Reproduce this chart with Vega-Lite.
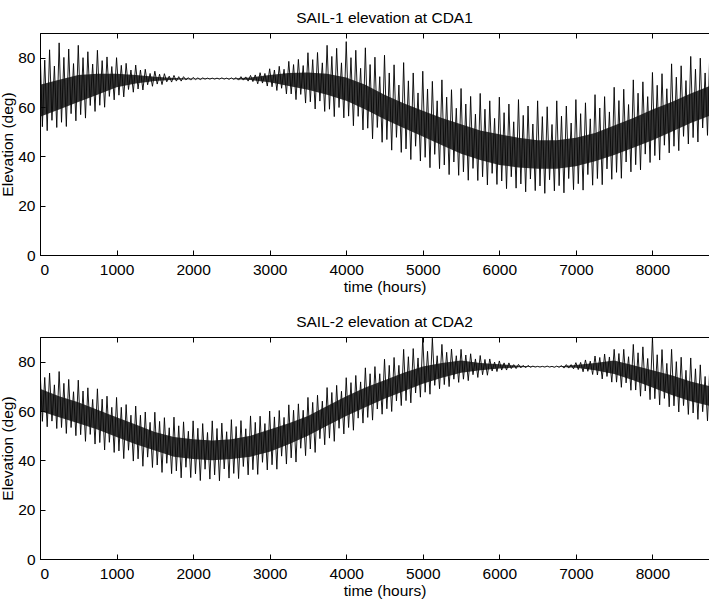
{
  "$schema": "https://vega.github.io/schema/vega-lite/v6.json",
  "background": "white",
  "padding": {"left": 0, "top": 10, "right": 0, "bottom": 0},
  "config": {
    "font": "Liberation Sans",
    "view": {"stroke": "black", "strokeWidth": 1},
    "axis": {"grid": false, "domainColor": "black", "tickColor": "black", "labelColor": "black", "titleColor": "black", "labelFontSize": 15.5, "titleFontSize": 15.5, "titleFontWeight": "normal", "tickSize": -5, "labelFont": "Liberation Sans", "titleFont": "Liberation Sans"},
    "axisX": {"labelPadding": 12, "titlePadding": 2},
    "axisY": {"labelPadding": 10, "titlePadding": 2},
    "title": {"fontSize": 15.5, "fontWeight": "normal", "color": "black", "offset": 6, "font": "Liberation Sans"},
    "concat": {"spacing": 18}
  },
  "datasets": {
    "zig1": [
{"t":0,"e":85},{"t":31,"e":52.0},{"t":62,"e":79.0},{"t":94,"e":50.4},{"t":125,"e":83.2},{"t":156,"e":54.6},{"t":188,"e":76.6},{"t":219,"e":51.7},
{"t":250,"e":86},{"t":281,"e":53.8},{"t":312,"e":80.1},{"t":344,"e":52.1},{"t":375,"e":83.5},{"t":406,"e":57.3},{"t":438,"e":77.6},{"t":469,"e":54.4},
{"t":500,"e":85},{"t":531,"e":56.9},{"t":562,"e":80.0},{"t":594,"e":55.5},{"t":625,"e":82.4},{"t":656,"e":60.6},{"t":688,"e":77.4},{"t":719,"e":58.2},
{"t":750,"e":83},{"t":781,"e":60.7},{"t":812,"e":78.8},{"t":844,"e":59.9},{"t":875,"e":80.3},{"t":906,"e":64.3},{"t":938,"e":76.4},{"t":969,"e":62.9},
{"t":1000,"e":80},{"t":1031,"e":64.8},{"t":1062,"e":76.9},{"t":1094,"e":64.1},{"t":1125,"e":77.7},{"t":1156,"e":67.1},{"t":1188,"e":75.0},{"t":1219,"e":66.0},
{"t":1250,"e":77},{"t":1281,"e":67.3},{"t":1312,"e":75.0},{"t":1344,"e":66.9},{"t":1375,"e":75.3},{"t":1406,"e":69.0},{"t":1438,"e":73.6},{"t":1469,"e":68.4},
{"t":1500,"e":74.5},{"t":1531,"e":69.3},{"t":1562,"e":73.3},{"t":1594,"e":69.1},{"t":1625,"e":73.5},{"t":1656,"e":70.2},{"t":1688,"e":72.5},{"t":1719,"e":70.1},
{"t":1750,"e":72.8},{"t":1781,"e":70.5},{"t":1812,"e":72.3},{"t":1844,"e":70.5},{"t":1875,"e":72.3},{"t":1906,"e":71.0},{"t":1938,"e":71.9},{"t":1969,"e":70.9},
{"t":2000,"e":72.0},{"t":2031,"e":71.1},{"t":2062,"e":71.8},{"t":2094,"e":71.1},{"t":2125,"e":71.8},{"t":2156,"e":71.3},{"t":2188,"e":71.7},{"t":2219,"e":71.3},
{"t":2250,"e":71.7},{"t":2281,"e":71.3},{"t":2312,"e":71.7},{"t":2344,"e":71.3},{"t":2375,"e":71.8},{"t":2406,"e":71.3},{"t":2438,"e":71.7},{"t":2469,"e":71.2},
{"t":2500,"e":71.8},{"t":2531,"e":71.2},{"t":2562,"e":71.9},{"t":2594,"e":70.9},{"t":2625,"e":72.3},{"t":2656,"e":70.9},{"t":2688,"e":72.2},{"t":2719,"e":70.5},
{"t":2750,"e":72.8},{"t":2781,"e":70.3},{"t":2812,"e":73.0},{"t":2844,"e":69.4},{"t":2875,"e":73.9},{"t":2906,"e":69.7},{"t":2938,"e":73.6},{"t":2969,"e":68.5},
{"t":3000,"e":75.5},{"t":3031,"e":68.2},{"t":3062,"e":75.0},{"t":3094,"e":66.7},{"t":3125,"e":76.5},{"t":3156,"e":67.6},{"t":3188,"e":75.3},{"t":3219,"e":65.3},
{"t":3250,"e":78.5},{"t":3281,"e":65.3},{"t":3312,"e":77.2},{"t":3344,"e":63.0},{"t":3375,"e":79.3},{"t":3406,"e":65.1},{"t":3438,"e":76.8},{"t":3469,"e":61.6},
{"t":3500,"e":82},{"t":3531,"e":62.1},{"t":3562,"e":79.2},{"t":3594,"e":59.2},{"t":3625,"e":82.1},{"t":3656,"e":62.4},{"t":3688,"e":77.9},{"t":3719,"e":58.2},
{"t":3750,"e":85},{"t":3781,"e":59.1},{"t":3812,"e":80.5},{"t":3844,"e":56.1},{"t":3875,"e":83.8},{"t":3906,"e":59.8},{"t":3938,"e":77.9},{"t":3969,"e":55.6},
{"t":4000,"e":86.5},{"t":4031,"e":56.3},{"t":4062,"e":80.0},{"t":4094,"e":52.4},{"t":4125,"e":83.0},{"t":4156,"e":56.2},{"t":4188,"e":75.7},{"t":4219,"e":50.7},
{"t":4250,"e":84},{"t":4281,"e":51.4},{"t":4312,"e":77.2},{"t":4344,"e":47.1},{"t":4375,"e":80.2},{"t":4406,"e":51.7},{"t":4438,"e":72.3},{"t":4469,"e":45.7},
{"t":4500,"e":81},{"t":4531,"e":46.8},{"t":4562,"e":73.8},{"t":4594,"e":42.5},{"t":4625,"e":77.1},{"t":4656,"e":47.7},{"t":4688,"e":68.9},{"t":4719,"e":41.6},
{"t":4750,"e":78},{"t":4781,"e":43.0},{"t":4812,"e":70.6},{"t":4844,"e":38.7},{"t":4875,"e":73.8},{"t":4906,"e":44.1},{"t":4938,"e":65.7},{"t":4969,"e":38.1},
{"t":5000,"e":74.5},{"t":5031,"e":39.6},{"t":5062,"e":67.3},{"t":5094,"e":35.4},{"t":5125,"e":70.4},{"t":5156,"e":40.8},{"t":5188,"e":62.5},{"t":5219,"e":35.0},
{"t":5250,"e":71},{"t":5281,"e":36.5},{"t":5312,"e":64.0},{"t":5344,"e":32.6},{"t":5375,"e":67.0},{"t":5406,"e":37.7},{"t":5438,"e":59.5},{"t":5469,"e":32.3},
{"t":5500,"e":67.5},{"t":5531,"e":33.7},{"t":5562,"e":61.2},{"t":5594,"e":30.3},{"t":5625,"e":64.3},{"t":5656,"e":35.1},{"t":5688,"e":57.1},{"t":5719,"e":30.2},
{"t":5750,"e":65.5},{"t":5781,"e":31.7},{"t":5812,"e":59.1},{"t":5844,"e":28.4},{"t":5875,"e":62.5},{"t":5906,"e":33.1},{"t":5938,"e":55.4},{"t":5969,"e":28.6},
{"t":6000,"e":64},{"t":6031,"e":30.0},{"t":6062,"e":57.7},{"t":6094,"e":26.9},{"t":6125,"e":61.2},{"t":6156,"e":31.7},{"t":6188,"e":54.0},{"t":6219,"e":27.1},
{"t":6250,"e":63},{"t":6281,"e":28.8},{"t":6312,"e":56.6},{"t":6344,"e":25.6},{"t":6375,"e":60.4},{"t":6406,"e":30.8},{"t":6438,"e":53.1},{"t":6469,"e":26.1},
{"t":6500,"e":62.5},{"t":6531,"e":28.0},{"t":6562,"e":56.1},{"t":6594,"e":25.0},{"t":6625,"e":60.1},{"t":6656,"e":30.5},{"t":6688,"e":52.9},{"t":6719,"e":26.0},
{"t":6750,"e":62.5},{"t":6781,"e":28.1},{"t":6812,"e":56.3},{"t":6844,"e":25.2},{"t":6875,"e":60.4},{"t":6906,"e":31.0},{"t":6938,"e":53.5},{"t":6969,"e":26.5},
{"t":7000,"e":63},{"t":7031,"e":28.9},{"t":7062,"e":57.3},{"t":7094,"e":26.3},{"t":7125,"e":61.7},{"t":7156,"e":32.6},{"t":7188,"e":55.2},{"t":7219,"e":28.3},
{"t":7250,"e":65},{"t":7281,"e":31.0},{"t":7312,"e":59.6},{"t":7344,"e":28.5},{"t":7375,"e":64.2},{"t":7406,"e":34.9},{"t":7438,"e":58.0},{"t":7469,"e":30.7},
{"t":7500,"e":68},{"t":7531,"e":33.5},{"t":7562,"e":62.6},{"t":7594,"e":31.1},{"t":7625,"e":67.2},{"t":7656,"e":37.7},{"t":7688,"e":61.0},{"t":7719,"e":33.7},
{"t":7750,"e":71},{"t":7781,"e":36.6},{"t":7812,"e":65.6},{"t":7844,"e":34.5},{"t":7875,"e":70.2},{"t":7906,"e":40.9},{"t":7938,"e":64.2},{"t":7969,"e":37.5},
{"t":8000,"e":74},{"t":8031,"e":40.3},{"t":8062,"e":68.8},{"t":8094,"e":38.5},{"t":8125,"e":73.5},{"t":8156,"e":44.5},{"t":8188,"e":67.4},{"t":8219,"e":41.4},
{"t":8250,"e":77.5},{"t":8281,"e":44.1},{"t":8312,"e":72.1},{"t":8344,"e":42.3},{"t":8375,"e":76.7},{"t":8406,"e":48.1},{"t":8438,"e":70.7},{"t":8469,"e":45.0},
{"t":8500,"e":80.5},{"t":8531,"e":47.6},{"t":8562,"e":75.3},{"t":8594,"e":45.8},{"t":8625,"e":79.8},{"t":8656,"e":51.5},{"t":8688,"e":73.8},{"t":8719,"e":48.5},
{"t":8750,"e":83.5}
    ],
    "zig2": [
{"t":0,"e":77.5},{"t":31,"e":55.8},{"t":62,"e":73.6},{"t":94,"e":53.6},{"t":125,"e":75.4},{"t":156,"e":55.9},{"t":188,"e":70.6},{"t":219,"e":52.9},
{"t":250,"e":76},{"t":281,"e":53.3},{"t":312,"e":71.2},{"t":344,"e":50.9},{"t":375,"e":72.8},{"t":406,"e":53.3},{"t":438,"e":67.8},{"t":469,"e":50.0},
{"t":500,"e":72.5},{"t":531,"e":50.4},{"t":562,"e":68.1},{"t":594,"e":47.7},{"t":625,"e":69.4},{"t":656,"e":50.5},{"t":688,"e":64.7},{"t":719,"e":46.6},
{"t":750,"e":69},{"t":781,"e":47.2},{"t":812,"e":64.8},{"t":844,"e":44.2},{"t":875,"e":66.0},{"t":906,"e":47.3},{"t":938,"e":61.5},{"t":969,"e":43.2},
{"t":1000,"e":65.5},{"t":1031,"e":43.8},{"t":1062,"e":61.5},{"t":1094,"e":40.7},{"t":1125,"e":62.6},{"t":1156,"e":44.1},{"t":1188,"e":58.3},{"t":1219,"e":39.7},
{"t":1250,"e":62},{"t":1281,"e":40.6},{"t":1312,"e":58.3},{"t":1344,"e":37.6},{"t":1375,"e":59.6},{"t":1406,"e":41.3},{"t":1438,"e":55.4},{"t":1469,"e":37.1},
{"t":1500,"e":59.5},{"t":1531,"e":38.1},{"t":1562,"e":55.8},{"t":1594,"e":35.1},{"t":1625,"e":57.3},{"t":1656,"e":38.8},{"t":1688,"e":53.2},{"t":1719,"e":34.6},
{"t":1750,"e":57.5},{"t":1781,"e":35.7},{"t":1812,"e":54.0},{"t":1844,"e":32.9},{"t":1875,"e":55.6},{"t":1906,"e":37.2},{"t":1938,"e":51.8},{"t":1969,"e":33.0},
{"t":2000,"e":56},{"t":2031,"e":34.5},{"t":2062,"e":53.0},{"t":2094,"e":31.8},{"t":2125,"e":54.9},{"t":2156,"e":36.4},{"t":2188,"e":51.3},{"t":2219,"e":32.4},
{"t":2250,"e":56},{"t":2281,"e":34.1},{"t":2312,"e":52.9},{"t":2344,"e":31.7},{"t":2375,"e":55.1},{"t":2406,"e":36.5},{"t":2438,"e":51.6},{"t":2469,"e":32.8},
{"t":2500,"e":56.5},{"t":2531,"e":34.7},{"t":2562,"e":53.7},{"t":2594,"e":32.6},{"t":2625,"e":56.1},{"t":2656,"e":37.5},{"t":2688,"e":52.8},{"t":2719,"e":34.1},
{"t":2750,"e":58},{"t":2781,"e":36.2},{"t":2812,"e":55.4},{"t":2844,"e":34.3},{"t":2875,"e":57.9},{"t":2906,"e":39.2},{"t":2938,"e":54.9},{"t":2969,"e":36.1},
{"t":3000,"e":60},{"t":3031,"e":38.2},{"t":3062,"e":57.6},{"t":3094,"e":36.4},{"t":3125,"e":60.2},{"t":3156,"e":41.7},{"t":3188,"e":57.4},{"t":3219,"e":38.5},
{"t":3250,"e":62.5},{"t":3281,"e":41.0},{"t":3312,"e":60.3},{"t":3344,"e":39.3},{"t":3375,"e":62.9},{"t":3406,"e":44.9},{"t":3438,"e":60.3},{"t":3469,"e":41.9},
{"t":3500,"e":65.5},{"t":3531,"e":44.6},{"t":3562,"e":63.5},{"t":3594,"e":43.2},{"t":3625,"e":66.4},{"t":3656,"e":48.8},{"t":3688,"e":64.0},{"t":3719,"e":46.3},
{"t":3750,"e":69.5},{"t":3781,"e":49.0},{"t":3812,"e":67.5},{"t":3844,"e":47.7},{"t":3875,"e":70.4},{"t":3906,"e":53.0},{"t":3938,"e":68.0},{"t":3969,"e":50.7},
{"t":4000,"e":73.5},{"t":4031,"e":53.3},{"t":4062,"e":71.5},{"t":4094,"e":52.2},{"t":4125,"e":74.4},{"t":4156,"e":57.1},{"t":4188,"e":71.8},{"t":4219,"e":55.1},
{"t":4250,"e":77.5},{"t":4281,"e":57.4},{"t":4312,"e":75.1},{"t":4344,"e":56.3},{"t":4375,"e":78.0},{"t":4406,"e":60.8},{"t":4438,"e":75.1},{"t":4469,"e":58.7},
{"t":4500,"e":81},{"t":4531,"e":60.9},{"t":4562,"e":78.5},{"t":4594,"e":59.8},{"t":4625,"e":81.7},{"t":4656,"e":64.1},{"t":4688,"e":78.5},{"t":4719,"e":62.2},
{"t":4750,"e":85},{"t":4781,"e":64.2},{"t":4812,"e":82.0},{"t":4844,"e":63.3},{"t":4875,"e":85.3},{"t":4906,"e":67.3},{"t":4938,"e":81.5},{"t":4969,"e":65.6},
{"t":5000,"e":90},{"t":5031,"e":67.6},{"t":5062,"e":84.2},{"t":5094,"e":66.8},{"t":5125,"e":89.5},{"t":5156,"e":70.4},{"t":5188,"e":82.4},{"t":5219,"e":69.0},
{"t":5250,"e":87},{"t":5281,"e":70.7},{"t":5312,"e":83.8},{"t":5344,"e":69.9},{"t":5375,"e":85.1},{"t":5406,"e":72.9},{"t":5438,"e":82.4},{"t":5469,"e":71.6},
{"t":5500,"e":85},{"t":5531,"e":72.9},{"t":5562,"e":82.7},{"t":5594,"e":72.3},{"t":5625,"e":83.2},{"t":5656,"e":74.7},{"t":5688,"e":81.1},{"t":5719,"e":73.6},
{"t":5750,"e":82.5},{"t":5781,"e":74.7},{"t":5812,"e":80.9},{"t":5844,"e":74.5},{"t":5875,"e":81.1},{"t":5906,"e":76.2},{"t":5938,"e":79.8},{"t":5969,"e":76.0},
{"t":6000,"e":80.3},{"t":6031,"e":76.6},{"t":6062,"e":79.5},{"t":6094,"e":76.6},{"t":6125,"e":79.5},{"t":6156,"e":77.2},{"t":6188,"e":78.8},{"t":6219,"e":77.2},
{"t":6250,"e":78.9},{"t":6281,"e":77.5},{"t":6312,"e":78.5},{"t":6344,"e":77.5},{"t":6375,"e":78.5},{"t":6406,"e":77.7},{"t":6438,"e":78.2},{"t":6469,"e":77.8},
{"t":6500,"e":78.1},{"t":6531,"e":77.8},{"t":6562,"e":78.1},{"t":6594,"e":77.8},{"t":6625,"e":78.2},{"t":6656,"e":77.8},{"t":6688,"e":78.1},{"t":6719,"e":77.7},
{"t":6750,"e":78.2},{"t":6781,"e":77.7},{"t":6812,"e":78.4},{"t":6844,"e":77.4},{"t":6875,"e":78.8},{"t":6906,"e":77.4},{"t":6938,"e":78.8},{"t":6969,"e":77.1},
{"t":7000,"e":79.6},{"t":7031,"e":76.8},{"t":7062,"e":79.7},{"t":7094,"e":75.9},{"t":7125,"e":80.7},{"t":7156,"e":76.1},{"t":7188,"e":80.2},{"t":7219,"e":74.8},
{"t":7250,"e":82.3},{"t":7281,"e":74.6},{"t":7312,"e":81.7},{"t":7344,"e":73.0},{"t":7375,"e":83.1},{"t":7406,"e":74.0},{"t":7438,"e":81.9},{"t":7469,"e":71.7},
{"t":7500,"e":85},{"t":7531,"e":71.7},{"t":7562,"e":83.3},{"t":7594,"e":69.6},{"t":7625,"e":85.0},{"t":7656,"e":71.4},{"t":7688,"e":82.0},{"t":7719,"e":68.4},
{"t":7750,"e":87},{"t":7781,"e":68.5},{"t":7812,"e":83.6},{"t":7844,"e":66.0},{"t":7875,"e":86.0},{"t":7906,"e":68.1},{"t":7938,"e":81.3},{"t":7969,"e":64.6},
{"t":8000,"e":90},{"t":8031,"e":65.0},{"t":8062,"e":82.8},{"t":8094,"e":62.5},{"t":8125,"e":84.9},{"t":8156,"e":65.1},{"t":8188,"e":79.3},{"t":8219,"e":61.7},
{"t":8250,"e":85},{"t":8281,"e":62.1},{"t":8312,"e":80.0},{"t":8344,"e":59.6},{"t":8375,"e":81.8},{"t":8406,"e":62.2},{"t":8438,"e":76.5},{"t":8469,"e":58.6},
{"t":8500,"e":81.5},{"t":8531,"e":59.2},{"t":8562,"e":77.1},{"t":8594,"e":56.6},{"t":8625,"e":78.7},{"t":8656,"e":59.7},{"t":8688,"e":74.0},{"t":8719,"e":56.0},
{"t":8750,"e":78.5}
    ],
    "core1": [
{"t":0,"lo":56,"hi":69},{"t":250,"lo":59,"hi":71},{"t":500,"lo":62,"hi":73},{"t":750,"lo":65,"hi":73.5},{"t":1000,"lo":68,"hi":73.5},{"t":1250,"lo":69.5,"hi":73},{"t":1500,"lo":70.5,"hi":72.3},{"t":1750,"lo":71,"hi":71.8},{"t":2000,"lo":71.3,"hi":71.6},{"t":2250,"lo":71.4,"hi":71.6},{"t":2500,"lo":71.4,"hi":71.6},{"t":2750,"lo":70.9,"hi":72},{"t":3000,"lo":70,"hi":73},{"t":3250,"lo":68.5,"hi":73.8},{"t":3500,"lo":67,"hi":74},{"t":3750,"lo":65,"hi":73.5},{"t":4000,"lo":62.5,"hi":72},{"t":4250,"lo":59,"hi":69},{"t":4500,"lo":55,"hi":65},{"t":4750,"lo":51.5,"hi":61.5},{"t":5000,"lo":48,"hi":58.5},{"t":5250,"lo":44.5,"hi":55.5},{"t":5500,"lo":41,"hi":53},{"t":5750,"lo":38.5,"hi":50.5},{"t":6000,"lo":36.5,"hi":49},{"t":6250,"lo":35.5,"hi":47.5},{"t":6500,"lo":35,"hi":46.5},{"t":6750,"lo":35,"hi":46.5},{"t":7000,"lo":36,"hi":47.5},{"t":7250,"lo":38,"hi":49.5},{"t":7500,"lo":40.5,"hi":52.5},{"t":7750,"lo":43.5,"hi":55.5},{"t":8000,"lo":46.5,"hi":59},{"t":8250,"lo":50,"hi":62},{"t":8500,"lo":53.5,"hi":65.5},{"t":8750,"lo":56.5,"hi":68.5}
    ],
    "core2": [
{"t":0,"lo":60,"hi":69},{"t":250,"lo":57.5,"hi":66},{"t":500,"lo":55,"hi":63.5},{"t":750,"lo":52.5,"hi":60.5},{"t":1000,"lo":49.5,"hi":57.5},{"t":1250,"lo":46.5,"hi":54.5},{"t":1500,"lo":44,"hi":51.5},{"t":1750,"lo":41.5,"hi":49.5},{"t":2000,"lo":40.5,"hi":48.5},{"t":2250,"lo":40,"hi":48},{"t":2500,"lo":40.5,"hi":48.5},{"t":2750,"lo":41.5,"hi":50},{"t":3000,"lo":43.5,"hi":52.5},{"t":3250,"lo":46.5,"hi":55},{"t":3500,"lo":50,"hi":58},{"t":3750,"lo":54,"hi":62},{"t":4000,"lo":58,"hi":66},{"t":4250,"lo":61.5,"hi":69.5},{"t":4500,"lo":65,"hi":72.5},{"t":4750,"lo":68,"hi":75.5},{"t":5000,"lo":71,"hi":78},{"t":5250,"lo":73.5,"hi":79.5},{"t":5500,"lo":75.5,"hi":80.5},{"t":5750,"lo":76.5,"hi":79.5},{"t":6000,"lo":77.2,"hi":79},{"t":6250,"lo":77.7,"hi":78.3},{"t":6500,"lo":77.9,"hi":78},{"t":6750,"lo":77.9,"hi":78},{"t":7000,"lo":77.5,"hi":78.6},{"t":7250,"lo":76.5,"hi":79.5},{"t":7500,"lo":75,"hi":80.5},{"t":7750,"lo":72.5,"hi":78.5},{"t":8000,"lo":69.5,"hi":76.5},{"t":8250,"lo":66.5,"hi":74.5},{"t":8500,"lo":64,"hi":72},{"t":8750,"lo":62,"hi":70}
    ]
  },
  "vconcat": [
    {
      "width": 689, "height": 222,
      "title": {"text": "SAIL-1 elevation at CDA1"},
      "resolve": {"axis": {"x": "independent", "y": "independent"}},
      "layer": [
        {
          "data": {"name": "zig1"},
          "mark": {"type": "line", "color": "#000000", "strokeWidth": 0.9, "clip": true},
          "encoding": {
            "x": {"field": "t", "type": "quantitative", "scale": {"domain": [0, 9000], "nice": false, "zero": false}, "axis": {"title": "time (hours)", "format": "d", "values": [0,1000,2000,3000,4000,5000,6000,7000,8000]}},
            "y": {"field": "e", "type": "quantitative", "scale": {"domain": [0, 90], "nice": false}, "axis": {"title": "Elevation (deg)", "format": "d", "values": [0,20,40,60,80]}}
          }
        },
        {
          "data": {"name": "core1"},
          "mark": {"type": "area", "color": "#0a0a0a", "opacity": 0.82, "clip": true},
          "encoding": {
            "x": {"field": "t", "type": "quantitative", "axis": {"orient": "top", "labels": false, "title": null, "domain": false, "values": [0,1000,2000,3000,4000,5000,6000,7000,8000]}},
            "y": {"field": "lo", "type": "quantitative", "axis": null},
            "y2": {"field": "hi"}
          }
        }
      ]
    },
    {
      "width": 689, "height": 222,
      "title": {"text": "SAIL-2 elevation at CDA2"},
      "resolve": {"axis": {"x": "independent", "y": "independent"}},
      "layer": [
        {
          "data": {"name": "zig2"},
          "mark": {"type": "line", "color": "#000000", "strokeWidth": 0.9, "clip": true},
          "encoding": {
            "x": {"field": "t", "type": "quantitative", "scale": {"domain": [0, 9000], "nice": false, "zero": false}, "axis": {"title": "time (hours)", "format": "d", "values": [0,1000,2000,3000,4000,5000,6000,7000,8000]}},
            "y": {"field": "e", "type": "quantitative", "scale": {"domain": [0, 90], "nice": false}, "axis": {"title": "Elevation (deg)", "format": "d", "values": [0,20,40,60,80]}}
          }
        },
        {
          "data": {"name": "core2"},
          "mark": {"type": "area", "color": "#0a0a0a", "opacity": 0.82, "clip": true},
          "encoding": {
            "x": {"field": "t", "type": "quantitative", "axis": {"orient": "top", "labels": false, "title": null, "domain": false, "values": [0,1000,2000,3000,4000,5000,6000,7000,8000]}},
            "y": {"field": "lo", "type": "quantitative", "axis": null},
            "y2": {"field": "hi"}
          }
        }
      ]
    }
  ]
}
